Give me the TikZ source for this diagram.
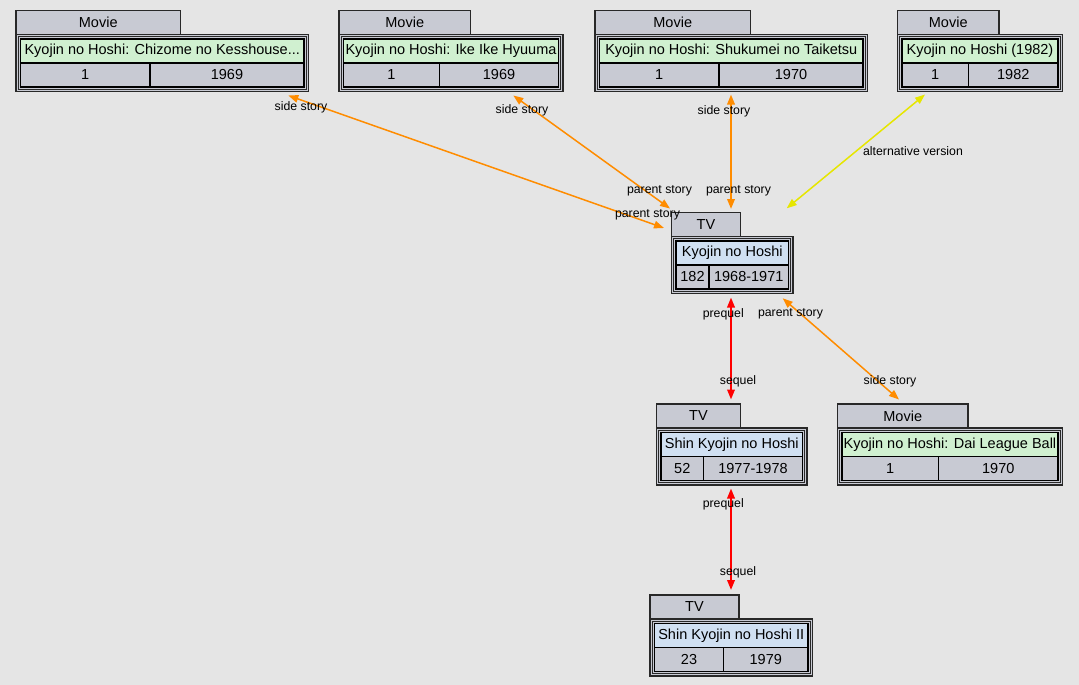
\documentclass[tikz,border=0pt]{standalone}
\usepackage{fontspec}
\setmainfont{Liberation Sans}
\usetikzlibrary{arrows.meta}
\definecolor{bg}{RGB}{229,229,229}
\definecolor{cellgray}{RGB}{200,202,211}
\definecolor{moviegreen}{RGB}{208,240,208}
\definecolor{tvblue}{RGB}{208,224,242}
\definecolor{edgeorange}{RGB}{255,140,0}
\definecolor{edgeyellow}{RGB}{230,230,0}
\definecolor{edgered}{RGB}{255,0,0}
\definecolor{linecol}{RGB}{40,40,40}
\tikzset{
  tabbox/.style={draw=linecol,line width=1.1pt,fill=cellgray,minimum height=24,inner sep=0,outer sep=0,font=\fontsize{14.5}{16}\selectfont},
  outerbox/.style={draw=linecol,line width=1.1pt,fill=cellgray,minimum height=57,inner sep=0,outer sep=0},
  boxline/.style={draw=linecol,line width=0.9pt},
  cellbox/.style={draw=black,line width=1.3pt,minimum height=24,inner sep=0,outer sep=0,font=\fontsize{14.5}{16}\selectfont},
  celltext/.style={inner sep=0,font=\fontsize{14.5}{16}\selectfont},
  elabel/.style={inner sep=0,font=\fontsize{12.3}{14}\selectfont},
  rel/.style={line width=1.5pt,{Triangle[length=10pt,width=7.5pt]}-{Triangle[length=10pt,width=7.5pt]}},
  vert/.style={line width=2pt},
  orangeedge/.style={rel,draw=edgeorange,fill=edgeorange},
  yellowedge/.style={rel,draw=edgeyellow,fill=edgeyellow},
  rededge/.style={rel,draw=edgered,fill=edgered},
}
% #1 name, #2 x0, #3 y0, #4 tabR, #5 boxR, #6 split, #7 type, #8 fill, #9 title
\newcommand\entity[9]{%
  \pgfmathsetmacro\tw{#4-#2}%
  \pgfmathsetmacro\bw{#5-#2}%
  \pgfmathsetmacro\cw{#5-#2-9}%
  \pgfmathsetmacro\lw{#6-#2-4.5}%
  \pgfmathsetmacro\rw{#5-4.5-#6}%
  \node[tabbox,minimum width=\tw,anchor=north west] (#1-tab) at (#2,#3) {#7};
  \node[outerbox,minimum width=\bw,anchor=north west] (#1) at (#2,#3+24) {};
  \draw[boxline] ([shift={(2.3,2.3)}]#1.north west) rectangle ([shift={(-2.3,-2.3)}]#1.south east);
  \node[cellbox,fill=#8,minimum width=\cw,anchor=north west] (#1-title) at (#2+4.5,#3+28.5) {#9};
  \node[cellbox,fill=cellgray,minimum width=\lw,anchor=north west] (#1-c1) at (#2+4.5,#3+52.5) {};
  \node[cellbox,fill=cellgray,minimum width=\rw,anchor=north west] (#1-c2) at (#6,#3+52.5) {};
}
\newcommand\cells[3]{%
  \node[celltext] (#1-t1) at (#1-c1) {#2};
  \node[celltext] (#1-t2) at (#1-c2) {#3};
}
\begin{document}
\begin{tikzpicture}[x=1pt,y=-1pt]
\useasboundingbox[fill=bg] (0,0) rectangle (1079,685);

\entity{A}{16}{10.5}{180.5}{308.5}{150}{Movie}{moviegreen}{Kyojin no Hoshi: Chizome no Kesshouse...}
\cells{A}{1}{1969}
\entity{B}{339}{10.5}{470.5}{563}{439.5}{Movie}{moviegreen}{Kyojin no Hoshi: Ike Ike Hyuuma}
\cells{B}{1}{1969}
\entity{C}{595}{10.5}{750.5}{867.5}{719}{Movie}{moviegreen}{Kyojin no Hoshi: Shukumei no Taiketsu}
\cells{C}{1}{1970}
\entity{D}{897.5}{10.5}{999}{1062.5}{968.5}{Movie}{moviegreen}{Kyojin no Hoshi (1982)}
\cells{D}{1}{1982}
\entity{E}{671.5}{212.5}{740.5}{793}{709}{TV}{tvblue}{Kyojin no Hoshi}
\cells{E}{182}{1968-1971}
\entity{F}{656.5}{404}{740.5}{807}{703.5}{TV}{tvblue}{Shin Kyojin no Hoshi}
\cells{F}{52}{1977-1978}
\entity{H}{837.5}{404}{968}{1062.5}{938.5}{Movie}{moviegreen}{Kyojin no Hoshi: Dai League Ball}
\cells{H}{1}{1970}
\entity{G}{650}{595}{739}{812.5}{723.5}{TV}{tvblue}{Shin Kyojin no Hoshi II}
\cells{G}{23}{1979}

% connector end points
\coordinate (pA) at (288.3,95.5);
\coordinate (pAE) at (664,228);
\coordinate (pB) at (513.3,95.5);
\coordinate (pBE) at (670,208.5);
\coordinate (pC) at (731,94.5);
\coordinate (pCE) at (731,209);
\coordinate (pD) at (925,94.5);
\coordinate (pDE) at (786.7,208.3);
\coordinate (pEF) at (731,297.5);
\coordinate (pFE) at (731,399.5);
\coordinate (pEH) at (782.7,298.3);
\coordinate (pHE) at (899,399.5);
\coordinate (pFG) at (731,488.5);
\coordinate (pGF) at (731,590);

\draw[orangeedge] (pA) -- (pAE);
\draw[orangeedge] (pB) -- (pBE);
\draw[orangeedge,vert] (pC) -- (pCE);
\draw[yellowedge] (pD) -- (pDE);
\draw[rededge,vert] (pEF) -- (pFE);
\draw[orangeedge] (pEH) -- (pHE);
\draw[rededge,vert] (pFG) -- (pGF);

\node[elabel] (l1) at (301,107) {side story};
\node[elabel] (l2) at (647.5,215) {parent story};
\node[elabel] (l3) at (522,110) {side story};
\node[elabel] (l4) at (659.5,191) {parent story};
\node[elabel] (l5) at (724,111) {side story};
\node[elabel] (l6) at (738.5,191) {parent story};
\node[elabel] (l7) at (913,151) {alternative version};
\node[elabel] (l8) at (723.3,314) {prequel};
\node[elabel] (l9) at (738,381) {sequel};
\node[elabel] (l10) at (790.5,314) {parent story};
\node[elabel] (l11) at (890,381) {side story};
\node[elabel] (l12) at (723.3,504) {prequel};
\node[elabel] (l13) at (738,572) {sequel};
\end{tikzpicture}
\end{document}
